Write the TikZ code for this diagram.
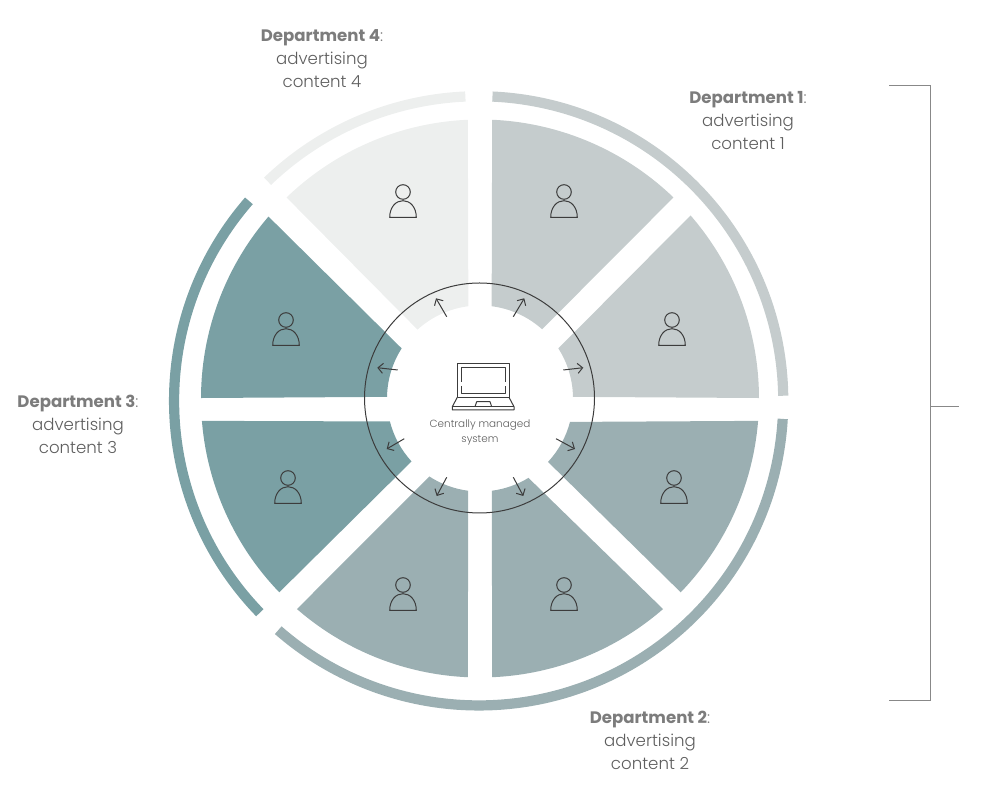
\documentclass[tikz,border=0pt]{standalone}
\usepackage{fontspec}
\setmainfont{Poppins Light}[BoldFont=Poppins Bold]
\usetikzlibrary{arrows.meta,calc}
\definecolor{deptone}{HTML}{C5CCCD}
\definecolor{depttwo}{HTML}{9BAFB2}
\definecolor{deptthree}{HTML}{7AA0A4}
\definecolor{deptfour}{HTML}{EDEFEE}
\definecolor{inkline}{HTML}{3C3C3C}
\definecolor{inkhead}{HTML}{7C7C7C}
\definecolor{inktext}{HTML}{5E5E5E}
\definecolor{inkbracket}{HTML}{888888}
\tikzset{
  ringband/.style={line width=10.2pt},
  iconline/.style={draw=inkline, line width=1pt, line join=round},
  spoke/.style={-{Straight Barb[length=5pt,width=10pt]}, draw=inkline, line width=1pt},
  deptlabel/.style={align=center, font=\fontsize{16.6}{23}\selectfont, text=inktext, inner sep=0pt},
  hublabel/.style={align=center, font=\fontsize{10.4}{15}\selectfont, text=inktext, inner sep=0pt},
  bracketline/.style={draw=inkbracket, line width=1pt},
  person/.pic={
    \draw[iconline] (0,0) circle[radius=7.3];
    \draw[iconline] (-13.3,-25.4) .. controls (-13.3,-15) and (-7,-8.7) .. (0,-8.7)
      .. controls (7,-8.7) and (13.3,-15) .. (13.3,-25.4) -- cycle;
  }
}
% colour, outer start/end angle, inner end/start angle
\newcommand{\sector}[5]{
  \fill[#1] ($(hub)+(#2:279)$) arc[start angle=#2, end angle=#3, radius=279]
    -- ($(hub)+(#4:93)$) arc[start angle=#4, end angle=#5, radius=93] -- cycle;
}
\newcommand{\ringpart}[3]{
  \draw[#1, ringband] ($(ringhub)+(#2:304.6)$) arc[start angle=#2, end angle=#3, radius=304.6];
}
\begin{document}
\begin{tikzpicture}[x=1pt, y=1pt]
  \useasboundingbox (0,0) rectangle (988,800);
  \coordinate (hub) at (480,401.5);
  \coordinate (ringhub) at (478.65,399.15);

  % sectors
  \sector{deptone}{87.5}{46.1}{48.1}{82.8}
  \sector{deptone}{41}{0.1}{1}{32.6}
  \sector{depttwo}{-4.6}{-44}{-43}{-14.6}
  \sector{depttwo}{-49}{-87.5}{-82.7}{-58.6}
  \sector{depttwo}{267.5}{229}{237}{262.7}
  \sector{deptthree}{224}{184.6}{194.3}{222.6}
  \sector{deptthree}{179.9}{139.3}{147.4}{179}
  \sector{deptfour}{133.9}{92.5}{97.2}{132.2}

  % outer ring
  \ringpart{deptone}{87.4}{0.96}
  \ringpart{depttwo}{-3.4}{-131.15}
  \ringpart{deptthree}{224.08}{138.96}
  \ringpart{deptfour}{133.87}{92.5}

  % people
  \pic at (564,608) {person};
  \pic at (672,480) {person};
  \pic at (674,322) {person};
  \pic at (564,215) {person};
  \pic at (403,215) {person};
  \pic at (288,322) {person};
  \pic at (286,480) {person};
  \pic at (403,608) {person};

  % centre
  \node[circle, draw=inkline, line width=1pt, minimum size=230pt, inner sep=0pt] (core) at (479.5,402) {};
  \node[hublabel] (corelabel) at (480,367.5) {Centrally managed\\system};

  % laptop
  \draw[iconline] (457.3,402.7) -- (457.3,436.7) -- (509,436.7) -- (509,402.7) -- cycle;
  \draw[iconline] (461,418) -- (461,432.7) -- (505.7,432.7) -- (505.7,418);
  \draw[iconline] (461,414) -- (461,406.7) -- (505.7,406.7) -- (505.7,414);
  \draw[iconline] (457.3,402.7) -- (452.3,393.3) -- (452.3,390) -- (514,390) -- (514,393.3) -- (509,402.7);
  \draw[iconline] (452.3,393.3) -- (514,393.3);
  \draw[iconline] (475,393.3) -- (476.7,398.3) -- (490,398.3) -- (491.7,393.3);

  % arrows
  \coordinate (a1) at (513.3,483.3);
  \coordinate (b1) at (524.3,501.7);
  \coordinate (a2) at (563.3,430);
  \coordinate (b2) at (583.3,432.3);
  \coordinate (a3) at (556,361.3);
  \coordinate (b3) at (575,351);
  \coordinate (a4) at (513.3,322.7);
  \coordinate (b4) at (523.3,304);
  \coordinate (a5) at (446.7,322.7);
  \coordinate (b5) at (436.7,304);
  \coordinate (a6) at (404.3,361.3);
  \coordinate (b6) at (386.7,351);
  \coordinate (a7) at (397.7,430);
  \coordinate (b7) at (377.3,432.3);
  \coordinate (a8) at (446.7,483.3);
  \coordinate (b8) at (436,501.7);
  \draw[spoke] (a1) -- (b1);
  \draw[spoke] (a2) -- (b2);
  \draw[spoke] (a3) -- (b3);
  \draw[spoke] (a4) -- (b4);
  \draw[spoke] (a5) -- (b5);
  \draw[spoke] (a6) -- (b6);
  \draw[spoke] (a7) -- (b7);
  \draw[spoke] (a8) -- (b8);

  % labels
  \node[deptlabel] (dept1) at (748,679) {\textcolor{inkhead}{\textbf{Department 1}:}\\advertising\\content 1};
  \node[deptlabel] (dept2) at (650,60) {\textcolor{inkhead}{\textbf{Department 2}:}\\advertising\\content 2};
  \node[deptlabel] (dept3) at (78,376) {\textcolor{inkhead}{\textbf{Department 3}:}\\advertising\\content 3};
  \node[deptlabel] (dept4) at (322,741) {\textcolor{inkhead}{\textbf{Department 4}:}\\advertising\\content 4};

  % bracket
  \coordinate (btop) at (889,714);
  \coordinate (bbot) at (889,99);
  \coordinate (bmid) at (930,393.3);
  \coordinate (btick) at (959,393.3);
  \draw[bracketline] (btop) -- (930,714) -- (930,99) -- (bbot);
  \draw[bracketline] (bmid) -- (btick);
\end{tikzpicture}
\end{document}
